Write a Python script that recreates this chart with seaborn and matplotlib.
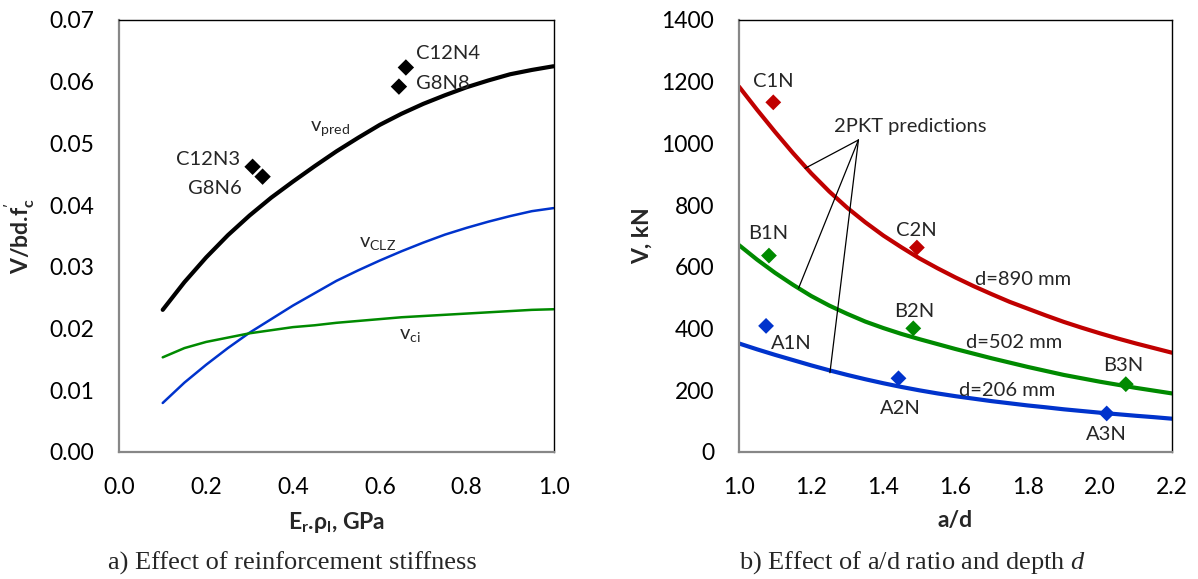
import matplotlib
matplotlib.use("Agg")
import matplotlib.pyplot as plt
import seaborn as sns
import pandas as pd

# ---------------- data: panel a ----------------
stiff_x = [0.10, 0.15, 0.20, 0.25, 0.30, 0.35, 0.40, 0.45, 0.50, 0.55,
           0.60, 0.65, 0.70, 0.75, 0.80, 0.85, 0.90, 0.95, 1.00]
v_pred = [0.0230, 0.0275, 0.0315, 0.0351, 0.0383, 0.0412, 0.0438, 0.0463, 0.0487, 0.0509,
          0.0530, 0.0548, 0.0564, 0.0578, 0.0591, 0.0602, 0.0612, 0.0619, 0.0625]
v_clz = [0.0079, 0.0112, 0.0141, 0.0168, 0.0193, 0.0215, 0.0237, 0.0257, 0.0277, 0.0294,
         0.0310, 0.0325, 0.0339, 0.0352, 0.0363, 0.0373, 0.0382, 0.0390, 0.0395]
v_ci = [0.0153, 0.0168, 0.0178, 0.0185, 0.0192, 0.0197, 0.0202, 0.0205, 0.0209, 0.0212,
        0.0215, 0.0218, 0.0220, 0.0222, 0.0224, 0.0226, 0.0228, 0.0230, 0.0231]

test_names_a = ["C12N3", "G8N6", "C12N4", "G8N8"]
test_x_a = [0.307, 0.330, 0.660, 0.644]
test_y_a = [0.0462, 0.0446, 0.0623, 0.0592]

# ---------------- data: panel b ----------------
ad = [1.00, 1.05, 1.10, 1.15, 1.20, 1.25, 1.30, 1.35, 1.40, 1.45, 1.50, 1.55, 1.60,
      1.65, 1.70, 1.75, 1.80, 1.85, 1.90, 1.95, 2.00, 2.05, 2.10, 2.15, 2.20]
V_890 = [1184, 1109, 1037, 968, 903, 844, 791, 744, 701, 663, 627, 595, 565,
         537, 511, 486, 464, 442, 421, 402, 384, 367, 351, 336, 321]
V_502 = [670, 623, 580, 541, 505, 474, 447, 422, 401, 382, 365, 349, 333,
         318, 303, 289, 275, 262, 249, 238, 227, 217, 207, 198, 189]
V_206 = [351, 332, 314, 297, 280, 264, 249, 235, 222, 210, 199, 189, 180,
         172, 164, 157, 150, 144, 137.5, 132, 126.5, 121.5, 116.5, 112, 107]

test_names_b = ["C1N", "C2N", "B1N", "B2N", "B3N", "A1N", "A2N", "A3N"]
test_ad_b = [1.095, 1.493, 1.083, 1.483, 2.072, 1.075, 1.442, 2.019]
test_V_b = [1133, 662, 636, 400, 219, 408, 238, 124]
test_series_b = ["890", "890", "502", "502", "502", "206", "206", "206"]

RED, GREEN, BLUE = "#C00000", "#008A00", "#0033CC"
colors_b = {"890": RED, "502": GREEN, "206": BLUE}

# ---------------- style ----------------
sns.set_style("white")
plt.rcParams["font.family"] = ["Lato", "DejaVu Sans"]
plt.rcParams["mathtext.default"] = "regular"
plt.rcParams["mathtext.fontset"] = "custom"
plt.rcParams["mathtext.it"] = "Liberation Serif:italic"
plt.rcParams["lines.solid_joinstyle"] = "round"

W, H = 1198, 579
fig = plt.figure(figsize=(W / 100, H / 100), dpi=100)
bot = (H - 451.7) / H
hgt = 431.7 / H
ax1 = fig.add_axes([119.3 / W, bot, 434.2 / W, hgt])
ax2 = fig.add_axes([739.0 / W, bot, 433.0 / W, hgt])

GREY = "#878787"
for ax in (ax1, ax2):
    for s in ("left", "bottom"):
        ax.spines[s].set_color(GREY)
        ax.spines[s].set_linewidth(1.6)
    for s in ("top", "right"):
        ax.spines[s].set_color("black")
        ax.spines[s].set_linewidth(1.0)
    ax.tick_params(axis="both", direction="in", length=7, width=1.3,
                   color=GREY, labelsize=16.5, pad=18, labelcolor="black",
                   top=False, right=False)

# ---------------- panel a ----------------
dfa = pd.DataFrame({"x": stiff_x, "pred": v_pred, "clz": v_clz, "ci": v_ci})
sns.lineplot(data=dfa, x="x", y="clz", ax=ax1, color=BLUE, lw=1.8, estimator=None, sort=False)
sns.lineplot(data=dfa, x="x", y="ci", ax=ax1, color=GREEN, lw=1.8, estimator=None, sort=False)
sns.lineplot(data=dfa, x="x", y="pred", ax=ax1, color="black", lw=3.0, estimator=None, sort=False)
dfta = pd.DataFrame({"x": test_x_a, "y": test_y_a, "name": test_names_a})
sns.scatterplot(data=dfta, x="x", y="y", ax=ax1, marker="D", s=70, color="black",
                edgecolor="none", zorder=5)

ax1.set_xlim(0, 1.0)
ax1.set_ylim(0, 0.07)
ax1.set_xticks([0.0, 0.2, 0.4, 0.6, 0.8, 1.0])
ax1.set_xticklabels(["0.0", "0.2", "0.4", "0.6", "0.8", "1.0"])
ax1.set_yticks([0.0, 0.01, 0.02, 0.03, 0.04, 0.05, 0.06, 0.07])
ax1.set_yticklabels(["0.00", "0.01", "0.02", "0.03", "0.04", "0.05", "0.06", "0.07"])
ax1.set_xlabel(r"E$_r$.ρ$_l$, GPa", fontsize=16.5, fontweight="bold", labelpad=9)
ax1.set_ylabel(r"V/bd.f$_c^{'}$", fontsize=16.5, fontweight="bold", labelpad=9)

fs_ann = 14.5
ax1.text(0.279, 0.0474, "C12N3", fontsize=fs_ann, ha="right", va="center")
ax1.text(0.281, 0.0427, "G8N6", fontsize=fs_ann, ha="right", va="center")
ax1.text(0.684, 0.0646, "C12N4", fontsize=fs_ann, ha="left", va="center")
ax1.text(0.684, 0.0597, "G8N8", fontsize=fs_ann, ha="left", va="center")
ax1.text(0.439, 0.0520, r"v$_{pred}$", fontsize=fs_ann, ha="left", va="baseline")
ax1.text(0.552, 0.0332, r"v$_{CLZ}$", fontsize=fs_ann, ha="left", va="baseline")
ax1.text(0.644, 0.0182, r"v$_{ci}$", fontsize=fs_ann, ha="left", va="baseline")

# ---------------- panel b ----------------
dfb = pd.DataFrame({"ad": ad, "V890": V_890, "V502": V_502, "V206": V_206})
sns.lineplot(data=dfb, x="ad", y="V890", ax=ax2, color=RED, lw=3.0, estimator=None, sort=False)
sns.lineplot(data=dfb, x="ad", y="V502", ax=ax2, color=GREEN, lw=3.0, estimator=None, sort=False)
sns.lineplot(data=dfb, x="ad", y="V206", ax=ax2, color=BLUE, lw=3.0, estimator=None, sort=False)
dftb = pd.DataFrame({"ad": test_ad_b, "V": test_V_b, "series": test_series_b})
sns.scatterplot(data=dftb, x="ad", y="V", hue="series", palette=colors_b, ax=ax2,
                marker="D", s=65, edgecolor="none", legend=False, zorder=5)

ax2.set_xlim(1.0, 2.2)
ax2.set_ylim(0, 1400)
ax2.set_xticks([1.0, 1.2, 1.4, 1.6, 1.8, 2.0, 2.2])
ax2.set_xticklabels(["1.0", "1.2", "1.4", "1.6", "1.8", "2.0", "2.2"])
ax2.set_yticks(list(range(0, 1401, 200)))
ax2.set_yticklabels([str(v) for v in range(0, 1401, 200)])
ax2.set_xlabel("a/d", fontsize=16.5, fontweight="bold", labelpad=9)
ax2.set_ylabel("V, kN", fontsize=16.5, fontweight="bold", labelpad=6)

lab_b = [("C1N", 1.095, 1200), ("C2N", 1.491, 717), ("B1N", 1.080, 706),
         ("B2N", 1.486, 454), ("A1N", 1.144, 352), ("B3N", 2.064, 281),
         ("A2N", 1.446, 141), ("A3N", 2.017, 57),
         ("d=890 mm", 1.788, 560), ("d=502 mm", 1.762, 354), ("d=206 mm", 1.744, 200),
         ("2PKT predictions", 1.474, 1054)]
for t, x, y in lab_b:
    ax2.text(x, y, t, fontsize=fs_ann, ha="center", va="center")

apex = (1.331, 1011)
leader_ends = [(1.183, 919), (1.165, 530), (1.252, 256)]
for ex, ey in leader_ends:
    ax2.plot([apex[0], ex], [apex[1], ey], color="black", lw=0.9)

# ---------------- captions ----------------
fig.text(292 / W, 1 - 563 / H, "a) Effect of reinforcement stiffness",
         family="Liberation Serif", fontsize=19, ha="center", va="center")
fig.text(913 / W, 1 - 563 / H, r"b) Effect of a/d ratio and depth $\mathit{d}$",
         family="Liberation Serif", fontsize=19, ha="center", va="center")

fig.savefig("out.png", dpi=100)
